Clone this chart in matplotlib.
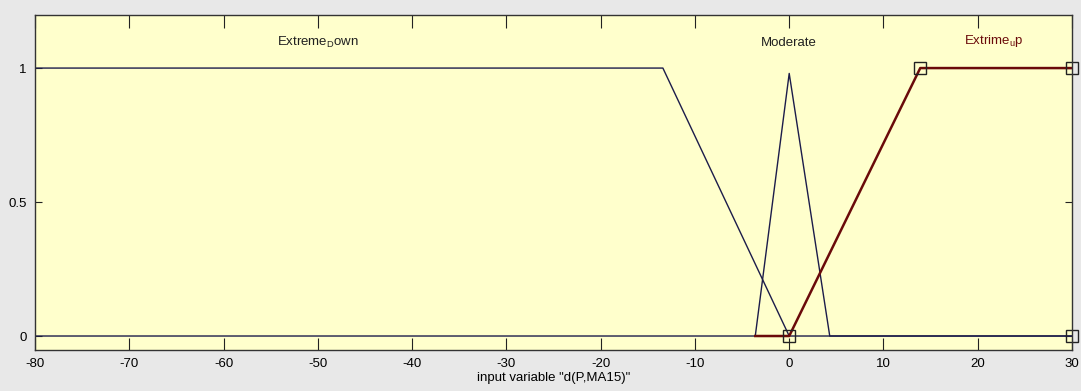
import numpy as np
import matplotlib.pyplot as plt

plt.rcParams['font.family'] = ['Liberation Sans', 'DejaVu Sans']
plt.rcParams['axes.unicode_minus'] = False
plt.rcParams['mathtext.fontset'] = 'custom'
plt.rcParams['mathtext.rm'] = 'Liberation Sans'

# membership function breakpoints
down_x = [-80, -13.4, 0, 30]
down_y = [1, 1, 0, 0]

mod_x = [-80, -3.6, 0, 4.3, 30]
mod_y = [0, 0, 0.98, 0, 0]

up_x = [-3.6, 0, 13.9, 30]
up_y = [0, 0, 1, 1]

up_vertices_x = [0, 13.9, 30, 30]
up_vertices_y = [0, 1, 1, 0]

mf_names = ['Extreme$_\\mathregular{D}$own', 'Moderate', 'Extrime$_\\mathregular{u}$p']
name_x = [-50, 0, 21.7]
name_y = [1.095, 1.095, 1.1]
name_colors = ['#202020', '#202020', '#6a0a0a']

xticks = np.arange(-80, 31, 10)
yticks = [0, 0.5, 1]

fig = plt.figure(figsize=(10.81, 3.91), dpi=100)
fig.patch.set_facecolor('#e8e8e8')
ax = fig.add_axes([0.0324, 0.105, 0.9593, 0.8566])
ax.set_facecolor('#ffffcc')

line_col = '#1c1c4a'
ax.plot(down_x, down_y, color=line_col, lw=1.0)
ax.plot(mod_x, mod_y, color=line_col, lw=1.0)
ax.plot(up_x, up_y, color='#6a0a0a', lw=1.8)
ax.plot(up_vertices_x, up_vertices_y, linestyle='none', marker='s', ms=8,
        mfc='none', mec='#222222', mew=1.0, clip_on=False)

for name, x, y, c in zip(mf_names, name_x, name_y, name_colors):
    ax.text(x, y, name, ha='center', va='center', fontsize=9.5, color=c)

ax.set_xlim(-80, 30)
ax.set_ylim(-0.052, 1.198)
ax.set_xticks(xticks)
ax.set_yticks(yticks)
ax.set_yticklabels(['0', '0.5', '1'])
ax.tick_params(axis='x', direction='in', length=9, top=True, labelsize=9.5, pad=6, color='#222222')
ax.tick_params(axis='y', direction='in', length=5, right=True, labelsize=9.5, pad=6, color='#222222')
for s in ax.spines.values():
    s.set_color('#333333')
    s.set_linewidth(1.0)

ax.set_xlabel('input variable "d(P,MA15)"', fontsize=9.5, labelpad=1)

fig.savefig('out.png', dpi=100, facecolor=fig.get_facecolor())
